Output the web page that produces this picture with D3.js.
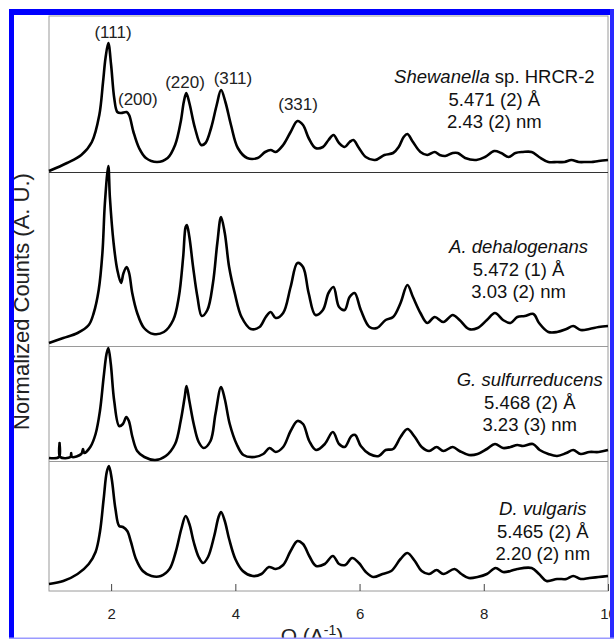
<!DOCTYPE html>
<html>
<head>
<meta charset="utf-8">
<script src="https://cdn.jsdelivr.net/npm/d3@7"></script>
<style>
  html, body { margin: 0; padding: 0; background: #fff; }
  svg { display: block; }
  text { font-family: "Liberation Sans", Arial, sans-serif; }
</style>
</head>
<body>
<div id="chart"></div>
<script>
// x ticks (Q, 1/A)
const qTicks = [2, 4, 6, 8, 10];

// curves: [Q, normalized counts above own baseline]
const shewanella = [[1.00,1],[1.29,9],[1.52,17],[1.69,30],[1.81,57],[1.87,90],[1.91,114],[1.955,129],[2.00,107],[2.05,74],[2.10,60],[2.16,59],[2.25,60],[2.29,57],[2.36,40],[2.45,24],[2.56,14],[2.74,10],[2.91,14],[3.03,27],[3.12,50],[3.17,70],[3.21,79],[3.26,69],[3.35,44],[3.45,27],[3.52,29],[3.61,44],[3.70,67],[3.77,82],[3.84,70],[3.93,47],[4.04,24],[4.19,14],[4.36,14],[4.48,20],[4.57,22],[4.65,20],[4.77,27],[4.89,40],[5.00,51],[5.09,47],[5.18,34],[5.29,24],[5.41,25],[5.50,32],[5.58,37],[5.67,29],[5.76,25],[5.84,30],[5.90,32],[5.99,24],[6.10,15],[6.25,12],[6.40,17],[6.54,19],[6.63,25],[6.71,35],[6.77,38],[6.86,30],[6.98,20],[7.09,17],[7.21,20],[7.29,17],[7.38,16],[7.50,19],[7.58,19],[7.70,14],[7.88,12],[8.02,15],[8.17,21],[8.28,19],[8.40,15],[8.51,19],[8.63,20],[8.77,20],[8.89,15],[9.04,10],[9.18,10],[9.30,10],[9.41,12],[9.53,10],[9.65,10],[9.73,10],[9.85,11],[10.0,12]];

const dehalogenans = [[1.00,3],[1.23,8],[1.46,13],[1.64,21],[1.72,33],[1.80,56],[1.86,93],[1.90,143],[1.955,180],[1.98,149],[2.04,103],[2.10,76],[2.16,63],[2.20,73],[2.25,79],[2.29,73],[2.34,53],[2.42,33],[2.53,18],[2.68,12],[2.85,14],[3.00,26],[3.09,49],[3.16,89],[3.20,119],[3.22,121],[3.26,109],[3.32,79],[3.39,49],[3.46,30],[3.55,36],[3.64,63],[3.71,103],[3.77,129],[3.83,113],[3.90,79],[3.99,53],[4.10,29],[4.25,17],[4.39,19],[4.49,29],[4.57,34],[4.65,28],[4.77,33],[4.89,59],[5.00,83],[5.09,79],[5.18,53],[5.29,31],[5.41,36],[5.50,53],[5.58,59],[5.67,39],[5.76,36],[5.84,49],[5.92,53],[6.02,36],[6.16,19],[6.28,18],[6.42,26],[6.54,29],[6.66,43],[6.77,61],[6.86,49],[6.98,33],[7.09,23],[7.21,29],[7.35,24],[7.50,31],[7.61,26],[7.76,17],[7.90,18],[8.05,26],[8.18,33],[8.31,26],[8.43,23],[8.54,29],[8.66,30],[8.80,32],[8.89,23],[9.04,14],[9.18,14],[9.33,17],[9.44,20],[9.56,16],[9.70,17],[9.85,19],[10.0,20]];

const sulfurreducens = [[1.00,3],[1.16,4],[1.17,18],[1.18,4],[1.345,4],[1.357,8],[1.37,4],[1.52,7],[1.548,12],[1.565,8],[1.665,14],[1.75,27],[1.82,50],[1.88,84],[1.926,107],[1.955,113],[1.995,97],[2.05,60],[2.13,35],[2.19,37],[2.245,44],[2.286,40],[2.343,24],[2.42,10],[2.535,4],[2.71,1],[2.88,5],[3.03,17],[3.12,40],[3.185,64],[3.214,75],[3.26,60],[3.33,37],[3.41,19],[3.49,13],[3.60,20],[3.68,47],[3.77,74],[3.83,62],[3.91,37],[4.02,17],[4.13,6],[4.31,4],[4.45,7],[4.55,13],[4.65,9],[4.77,14],[4.89,30],[5.00,40],[5.09,37],[5.19,20],[5.30,11],[5.44,17],[5.57,29],[5.67,17],[5.76,14],[5.87,25],[5.93,26],[6.02,15],[6.16,7],[6.31,5],[6.42,11],[6.54,12],[6.66,24],[6.77,32],[6.89,24],[7.00,14],[7.12,10],[7.24,14],[7.35,10],[7.50,14],[7.61,10],[7.76,6],[7.90,7],[8.05,12],[8.18,17],[8.31,13],[8.43,14],[8.54,16],[8.63,15],[8.79,17],[8.90,11],[9.04,7],[9.18,5],[9.33,8],[9.44,11],[9.56,7],[9.70,9],[9.85,9],[10.0,11]];

const vulgaris = [[1.00,7],[1.23,10],[1.46,17],[1.64,27],[1.75,39],[1.82,59],[1.88,92],[1.93,119],[1.965,125],[2.01,112],[2.07,82],[2.13,65],[2.19,64],[2.26,60],[2.32,49],[2.40,32],[2.51,20],[2.65,15],[2.80,15],[2.94,22],[3.04,39],[3.13,62],[3.20,75],[3.26,67],[3.33,49],[3.41,34],[3.48,28],[3.56,34],[3.66,55],[3.73,74],[3.77,79],[3.83,70],[3.90,52],[4.00,32],[4.12,20],[4.28,15],[4.42,17],[4.54,24],[4.65,22],[4.77,26],[4.89,40],[5.00,50],[5.09,47],[5.19,35],[5.30,25],[5.44,27],[5.57,35],[5.67,27],[5.77,26],[5.88,33],[5.99,28],[6.10,19],[6.22,14],[6.37,17],[6.51,20],[6.66,32],[6.77,38],[6.89,30],[7.00,20],[7.12,17],[7.24,21],[7.35,17],[7.53,22],[7.64,17],[7.76,13],[7.90,14],[8.05,17],[8.19,23],[8.31,19],[8.43,20],[8.54,22],[8.77,23],[8.89,17],[9.01,10],[9.18,12],[9.33,12],[9.44,15],[9.56,12],[9.70,13],[9.85,14],[10.0,15]];

// vertical offset of each curve (same units), top to bottom
const curves = [shewanella, dehalogenans, sulfurreducens, vulgaris];
const offsets = [419, 245, 130, 0];

const species = ['Shewanella', 'A. dehalogenans', 'G. sulfurreducens', 'D. vulgaris'];
const latticeParams = ['5.471 (2) Å', '5.472 (1) Å', '5.468 (2) Å', '5.465 (2) Å'];
const particleSizes = ['2.43 (2) nm', '3.03 (2) nm', '3.23 (3) nm', '2.20 (2) nm'];
const peakLabels = ['(111)', '(200)', '(220)', '(311)', '(331)'];

const W = 614, H = 639;
const margin = { top: 16, right: 6, bottom: 48, left: 49 };

const svg = d3.select('#chart').append('svg')
    .attr('width', W).attr('height', H);

svg.append('rect').attr('width', W).attr('height', H).attr('fill', '#fff');

const x = d3.scaleLinear().domain([1, 10]).range([margin.left, W - margin.right]);
const y = d3.scaleLinear().domain([0, 575]).range([H - margin.bottom, margin.top]);

// plot frame
svg.append('rect')
    .attr('x', x(1)).attr('y', y(575))
    .attr('width', x(10) - x(1)).attr('height', y(0) - y(575))
    .attr('fill', 'none').attr('stroke', '#9a9a9a').attr('stroke-width', 1);

// panel separators
svg.selectAll('.sep')
    .data(offsets.slice(0, 3))
    .join('line')
    .attr('class', 'sep')
    .attr('x1', x(1)).attr('x2', x(10))
    .attr('y1', d => Math.round(y(d)) + 0.5).attr('y2', d => Math.round(y(d)) + 0.5)
    .attr('stroke', (d, i) => i === 0 ? '#333' : '#9a9a9a')
    .attr('stroke-width', 1);

// curves
const line = d3.line()
    .x(d => x(d[0]))
    .y(d => y(d[1]))
    .curve(d3.curveCatmullRom.alpha(0.5));

svg.selectAll('.curve')
    .data(curves)
    .join('path')
    .attr('class', 'curve')
    .attr('d', (c, i) => line(c.map(p => [p[0], p[1] + offsets[i]])))
    .attr('fill', 'none')
    .attr('stroke', '#000')
    .attr('stroke-width', 2.6)
    .attr('stroke-linejoin', 'round');

// x axis: inward ticks on the bottom
const xAxis = svg.append('g')
    .attr('transform', `translate(0,${y(0)})`)
    .call(d3.axisBottom(x).tickValues(qTicks).tickSize(-7).tickPadding(17).tickFormat(d3.format('d')));
xAxis.select('.domain').remove();
xAxis.selectAll('line').attr('stroke', '#444');
xAxis.selectAll('text')
    .attr('font-size', '15px')
    .attr('fill', '#222')
    .style('font-family', '"Liberation Sans", Arial, sans-serif');

// axis titles
const xt = svg.append('text')
    .attr('x', 312).attr('y', 643)
    .attr('text-anchor', 'middle')
    .attr('font-size', '21px')
    .attr('fill', '#222');
xt.append('tspan').text('Q (A');
xt.append('tspan').attr('font-size', '14px').attr('dy', -8).text('-1');
xt.append('tspan').attr('dy', 8).text(')');

svg.append('text')
    .attr('transform', `translate(29,${(y(0) + y(575)) / 2 - 2}) rotate(-90)`)
    .attr('text-anchor', 'middle')
    .attr('font-size', '22px')
    .attr('fill', '#222')
    .text('Normalized Counts (A. U.)');

// peak indices on the top curve, positions in data units
const peakPos = [[2.03, 553], [2.43, 486], [3.19, 503], [3.96, 507], [5.01, 481]];
svg.selectAll('.peak')
    .data(peakLabels)
    .join('text')
    .attr('class', 'peak')
    .attr('x', (d, i) => x(peakPos[i][0]))
    .attr('y', (d, i) => y(peakPos[i][1]))
    .attr('text-anchor', 'middle')
    .attr('font-size', '17px')
    .attr('fill', '#222')
    .text(d => d);

// sample annotations: centre Q and first baseline in data units
const notePos = [[8.17, 508], [8.56, 338], [8.74, 205], [8.95, 76]];
species.forEach((name, i) => {
    const g = svg.append('text')
        .attr('text-anchor', 'middle')
        .attr('font-size', '18.5px')
        .attr('fill', '#111');
    const cx = x(notePos[i][0]);
    const first = g.append('tspan').attr('x', cx).attr('y', y(notePos[i][1]));
    if (i === 0) {
        first.append('tspan').attr('font-style', 'italic').text(name);
        first.append('tspan').text(' sp. HRCR-2');
    } else {
        first.attr('font-style', 'italic').text(name);
    }
    g.append('tspan').attr('x', cx).attr('y', y(notePos[i][1]) + 22.5).text(latticeParams[i]);
    g.append('tspan').attr('x', cx).attr('y', y(notePos[i][1]) + 45).text(particleSizes[i]);
});

// blue picture border
svg.append('rect').attr('x', 9).attr('y', 9).attr('width', W - 9).attr('height', 6).attr('fill', '#0000ff');
svg.append('rect').attr('x', 9).attr('y', 9).attr('width', 5).attr('height', H - 9).attr('fill', '#0000ff');
svg.append('rect').attr('x', 610).attr('y', 9).attr('width', 4).attr('height', H - 9).attr('fill', '#2a2aff');
svg.append('rect').attr('x', 9).attr('y', H - 1.5).attr('width', W - 9).attr('height', 1.5).attr('fill', '#9a9aff');
</script>
</body>
</html>
